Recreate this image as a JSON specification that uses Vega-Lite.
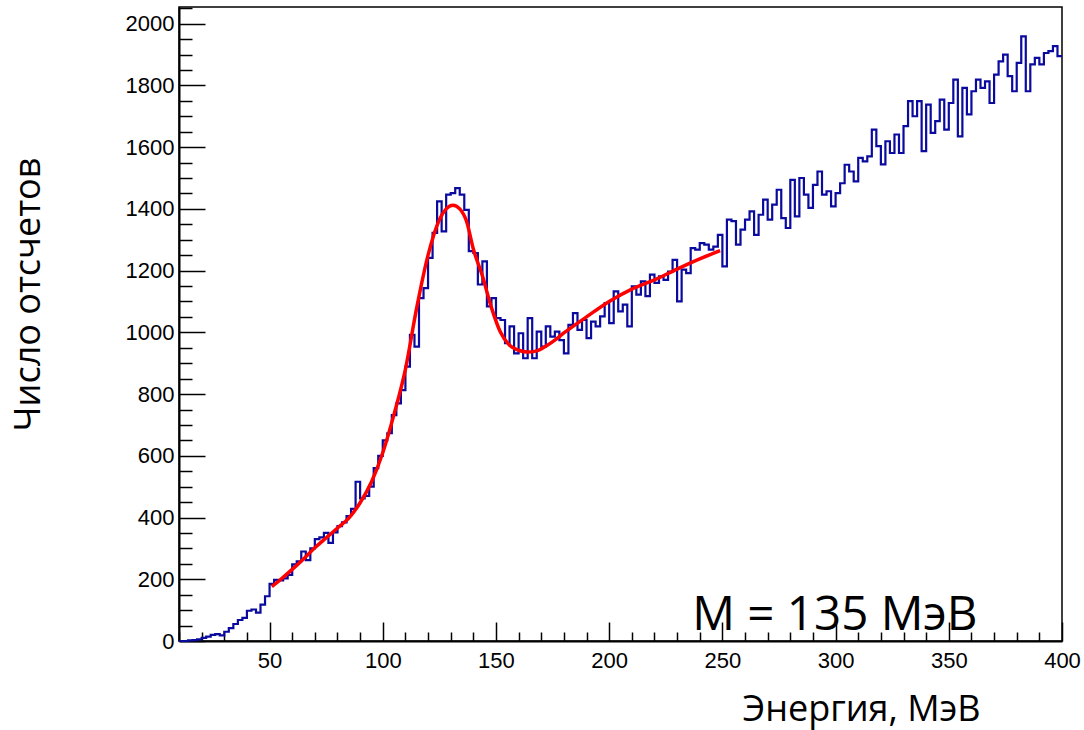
{
  "$schema": "https://vega.github.io/schema/vega-lite/v6.json",
  "width": 883,
  "height": 634,
  "autosize": {"type": "none"},
  "padding": {"left": 179, "top": 7, "right": 22, "bottom": 89},
  "background": "white",
  "config": {
    "view": {"stroke": "black", "strokeWidth": 1.5},
    "axis": {
      "grid": false,
      "domainColor": "black",
      "domainWidth": 2,
      "tickColor": "black",
      "tickWidth": 1.5,
      "labelFont": "Liberation Sans",
      "labelFontSize": 22,
      "labelColor": "black",
      "labelFlush": false,
      "labelOverlap": false,
      "titleFont": "Open Sans",
      "titleFontSize": 36,
      "titleFontWeight": "normal",
      "titleColor": "black"
    }
  },
  "resolve": {"axis": {"x": "independent", "y": "independent"}},
  "datasets": {
    "hist": [
      {"E":10,"N":0},{"E":12,"N":0},{"E":14,"N":2},{"E":16,"N":3},{"E":18,"N":5},{"E":20,"N":10},{"E":22,"N":14},{"E":24,"N":20},{"E":26,"N":22},{"E":28,"N":18},
      {"E":30,"N":30},{"E":32,"N":42},{"E":34,"N":55},{"E":36,"N":68},{"E":38,"N":75},{"E":40,"N":98},{"E":42,"N":102},{"E":44,"N":92},{"E":46,"N":118},{"E":48,"N":145},
      {"E":50,"N":185},{"E":52,"N":198},{"E":54,"N":196},{"E":56,"N":203},{"E":58,"N":214},{"E":60,"N":248},{"E":62,"N":258},{"E":64,"N":290},{"E":66,"N":262},{"E":68,"N":300},
      {"E":70,"N":330},{"E":72,"N":336},{"E":74,"N":350},{"E":76,"N":318},{"E":78,"N":352},{"E":80,"N":372},{"E":82,"N":384},{"E":84,"N":405},{"E":86,"N":428},{"E":88,"N":516},
      {"E":90,"N":462},{"E":92,"N":470},{"E":94,"N":500},{"E":96,"N":560},{"E":98,"N":600},{"E":100,"N":650},{"E":102,"N":673},{"E":104,"N":732},{"E":106,"N":770},{"E":108,"N":813},
      {"E":110,"N":889},{"E":112,"N":992},{"E":114,"N":954},{"E":116,"N":1111},{"E":118,"N":1143},{"E":120,"N":1241},{"E":122,"N":1322},{"E":124,"N":1424},{"E":126,"N":1327},{"E":128,"N":1446},
      {"E":130,"N":1451},{"E":132,"N":1467},{"E":134,"N":1446},{"E":136,"N":1397},{"E":138,"N":1263},{"E":140,"N":1257},{"E":142,"N":1155},{"E":144,"N":1230},{"E":146,"N":1084},{"E":148,"N":1111},
      {"E":150,"N":1046},{"E":152,"N":1040},{"E":154,"N":965},{"E":156,"N":1019},{"E":158,"N":932},{"E":160,"N":997},{"E":162,"N":916},{"E":164,"N":1046},{"E":166,"N":916},{"E":168,"N":1002},
      {"E":170,"N":954},{"E":172,"N":1019},{"E":174,"N":986},{"E":176,"N":1002},{"E":178,"N":975},{"E":180,"N":932},{"E":182,"N":1024},{"E":184,"N":1062},{"E":186,"N":1008},{"E":188,"N":1040},
      {"E":190,"N":981},{"E":192,"N":1035},{"E":194,"N":1019},{"E":196,"N":1052},{"E":198,"N":1095},{"E":200,"N":1030},{"E":202,"N":1133},{"E":204,"N":1068},{"E":206,"N":1090},{"E":208,"N":1019},
      {"E":210,"N":1149},{"E":212,"N":1122},{"E":214,"N":1165},{"E":216,"N":1117},{"E":218,"N":1187},{"E":220,"N":1160},{"E":222,"N":1181},{"E":224,"N":1170},{"E":226,"N":1197},{"E":228,"N":1235},
      {"E":230,"N":1100},{"E":232,"N":1203},{"E":234,"N":1192},{"E":236,"N":1273},{"E":238,"N":1268},{"E":240,"N":1289},{"E":242,"N":1284},{"E":244,"N":1268},{"E":246,"N":1278},{"E":248,"N":1316},
      {"E":250,"N":1214},{"E":252,"N":1365},{"E":254,"N":1360},{"E":256,"N":1284},{"E":258,"N":1333},{"E":260,"N":1365},{"E":262,"N":1392},{"E":264,"N":1316},{"E":266,"N":1381},{"E":268,"N":1430},
      {"E":270,"N":1365},{"E":272,"N":1414},{"E":274,"N":1462},{"E":276,"N":1370},{"E":278,"N":1338},{"E":280,"N":1494},{"E":282,"N":1376},{"E":284,"N":1500},{"E":286,"N":1446},{"E":288,"N":1403},
      {"E":290,"N":1478},{"E":292,"N":1521},{"E":294,"N":1446},{"E":296,"N":1457},{"E":298,"N":1408},{"E":300,"N":1451},{"E":302,"N":1483},{"E":304,"N":1543},{"E":306,"N":1521},{"E":308,"N":1489},
      {"E":310,"N":1565},{"E":312,"N":1554},{"E":314,"N":1570},{"E":316,"N":1657},{"E":318,"N":1603},{"E":320,"N":1544},{"E":322,"N":1619},{"E":324,"N":1581},{"E":326,"N":1641},{"E":328,"N":1581},
      {"E":330,"N":1668},{"E":332,"N":1749},{"E":334,"N":1700},{"E":336,"N":1749},{"E":338,"N":1587},{"E":340,"N":1738},{"E":342,"N":1646},{"E":344,"N":1684},{"E":346,"N":1754},{"E":348,"N":1657},
      {"E":350,"N":1743},{"E":352,"N":1819},{"E":354,"N":1635},{"E":356,"N":1792},{"E":358,"N":1706},{"E":360,"N":1781},{"E":362,"N":1819},{"E":364,"N":1792},{"E":366,"N":1813},{"E":368,"N":1743},
      {"E":370,"N":1835},{"E":372,"N":1878},{"E":374,"N":1900},{"E":376,"N":1830},{"E":378,"N":1781},{"E":380,"N":1873},{"E":382,"N":1959},{"E":384,"N":1781},{"E":386,"N":1868},{"E":388,"N":1889},
      {"E":390,"N":1868},{"E":392,"N":1905},{"E":394,"N":1911},{"E":396,"N":1927},{"E":398,"N":1895},{"E":400,"N":1895}
    ],
    "fit": [
      {"E":51,"N":176},{"E":55,"N":200},{"E":60,"N":232},{"E":65,"N":266},{"E":70,"N":302},{"E":75,"N":334},{"E":80,"N":366},{"E":85,"N":398},{"E":90,"N":448},{"E":95,"N":515},
      {"E":100,"N":610},{"E":105,"N":735},{"E":110,"N":880},{"E":115,"N":1080},{"E":120,"N":1250},{"E":125,"N":1365},{"E":128,"N":1400},{"E":131,"N":1412},{"E":134,"N":1400},{"E":137,"N":1360},
      {"E":140,"N":1270},{"E":144,"N":1183},{"E":148,"N":1080},{"E":152,"N":1000},{"E":156,"N":958},{"E":160,"N":942},{"E":164,"N":936},{"E":168,"N":940},{"E":172,"N":955},{"E":176,"N":975},
      {"E":180,"N":998},{"E":190,"N":1050},{"E":200,"N":1100},{"E":210,"N":1140},{"E":220,"N":1170},{"E":230,"N":1205},{"E":240,"N":1238},{"E":249,"N":1265}
    ],
    "note": [{"E":236.7,"N":36,"label":"M = 135 МэВ"}]
  },
  "layer": [
    {
      "data": {"name": "hist"},
      "mark": {"type": "line", "interpolate": "step-after", "color": "#0a0a9e", "strokeWidth": 2.2},
      "encoding": {
        "x": {
          "field": "E", "type": "quantitative",
          "scale": {"domain": [10, 400], "nice": false, "zero": false},
          "axis": {
            "orient": "bottom",
            "values": [50,100,150,200,250,300,350,400],
            "format": "d",
            "labelOverlap": false,
            "labelFlush": false,
            "tickSize": -19,
            "labelPadding": 28,
            "title": "Энергия, МэВ",
            "titleX": 682,
            "titleY": 79,
            "titleAlign": "center",
            "titleBaseline": "alphabetic"
          }
        },
        "y": {
          "field": "N", "type": "quantitative",
          "scale": {"domain": [0, 2054], "nice": false, "zero": false},
          "axis": {
            "orient": "left",
            "values": [0,200,400,600,800,1000,1200,1400,1600,1800,2000],
            "format": "d",
            "labelOverlap": false,
            "labelFlush": false,
            "tickSize": -26,
            "labelPadding": 31,
            "title": "Число отсчетов",
            "titleX": -140,
            "titleY": 287,
            "titleAngle": -90,
            "titleAlign": "center",
            "titleBaseline": "alphabetic"
          }
        }
      }
    },
    {
      "data": {"name": "fit"},
      "mark": {"type": "line", "interpolate": "monotone", "color": "#ff0000", "strokeWidth": 3.5},
      "encoding": {
        "x": {
          "field": "E", "type": "quantitative",
          "axis": {
            "orient": "bottom",
            "values": [10,20,30,40,60,70,80,90,110,120,130,140,160,170,180,190,210,220,230,240,260,270,280,290,310,320,330,340,360,370,380,390],
            "labels": false,
            "domain": false,
            "tickSize": -9,
            "title": null
          }
        },
        "y": {
          "field": "N", "type": "quantitative",
          "axis": {
            "orient": "left",
            "values": [50,100,150,250,300,350,450,500,550,650,700,750,850,900,950,1050,1100,1150,1250,1300,1350,1450,1500,1550,1650,1700,1750,1850,1900,1950,2050],
            "labels": false,
            "domain": false,
            "tickSize": -13,
            "title": null
          }
        }
      }
    },
    {
      "data": {"name": "note"},
      "mark": {"type": "text", "font": "Open Sans", "fontSize": 47.5, "align": "left", "baseline": "alphabetic", "color": "black"},
      "encoding": {
        "x": {"field": "E", "type": "quantitative", "axis": null},
        "y": {"field": "N", "type": "quantitative", "axis": null},
        "text": {"field": "label"}
      }
    }
  ]
}
